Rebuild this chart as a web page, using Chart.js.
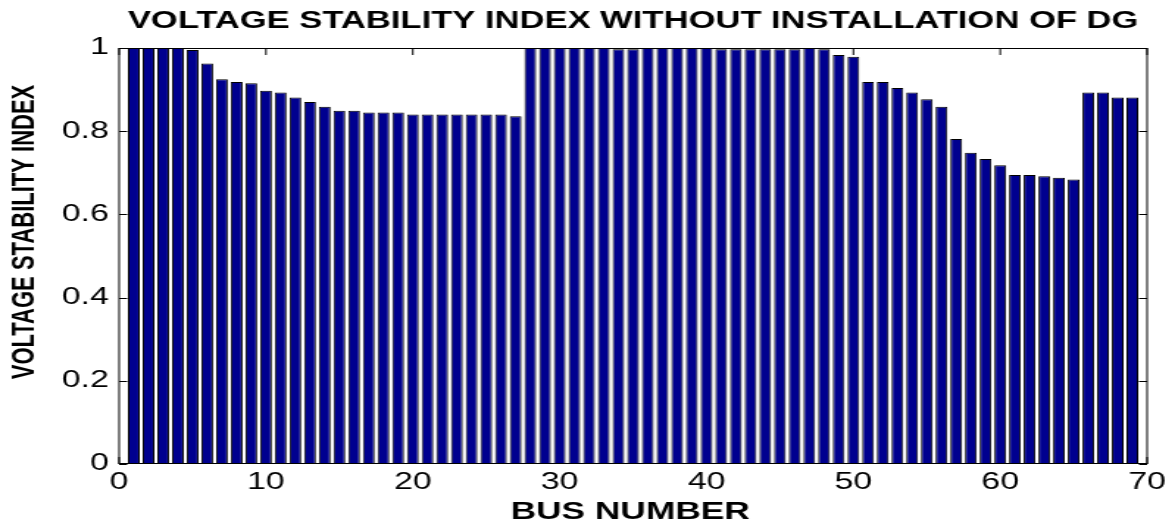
<!DOCTYPE html>
<html>
<head>
<meta charset="utf-8">
<title>Voltage stability index without installation of DG</title>
<script src="https://cdn.jsdelivr.net/npm/chart.js@4.4.1/dist/chart.umd.min.js"></script>
<style>
    html, body { margin: 0; padding: 0; background: #fff; overflow: hidden; }
    /* the original figure is stretched sideways, so the whole canvas is too */
    #wrap { width: 799px; height: 528px; transform: scaleX(1.4706); transform-origin: 0 0; }
</style>
</head>
<body>
<div id="wrap"><canvas id="chart-vsi" width="799" height="528"></canvas></div>
<script>
const TITLE   = 'VOLTAGE STABILITY INDEX WITHOUT INSTALLATION OF DG';
const X_TITLE = 'BUS NUMBER';
const Y_TITLE = 'VOLTAGE STABILITY INDEX';

const busNumbers = [
     1,  2,  3,  4,  5,  6,  7,  8,  9, 10,
    11, 12, 13, 14, 15, 16, 17, 18, 19, 20,
    21, 22, 23, 24, 25, 26, 27, 28, 29, 30,
    31, 32, 33, 34, 35, 36, 37, 38, 39, 40,
    41, 42, 43, 44, 45, 46, 47, 48, 49, 50,
    51, 52, 53, 54, 55, 56, 57, 58, 59, 60,
    61, 62, 63, 64, 65, 66, 67, 68, 69
];

const vsi = [
    1.000, 1.000, 1.000, 1.000, 0.995, 0.963, 0.925, 0.918, 0.915, 0.897,
    0.893, 0.881, 0.870, 0.859, 0.849, 0.849, 0.845, 0.845, 0.845, 0.840,
    0.840, 0.840, 0.840, 0.840, 0.840, 0.840, 0.836, 1.000, 1.000, 1.000,
    1.000, 1.000, 1.000, 0.997, 0.997, 1.000, 1.000, 1.000, 1.000, 1.000,
    0.997, 0.997, 0.997, 0.997, 0.997, 0.997, 1.000, 0.997, 0.983, 0.979,
    0.918, 0.918, 0.904, 0.893, 0.877, 0.859, 0.781, 0.748, 0.733, 0.718,
    0.695, 0.695, 0.692, 0.688, 0.684, 0.893, 0.893, 0.881, 0.881
];

const xTicks = [0, 10, 20, 30, 40, 50, 60, 70];
const yTicks = [0, 0.2, 0.4, 0.6, 0.8, 1];

const FONT = '"Liberation Sans", Arial, Helvetica, sans-serif';

// matlab style box: full frame, ticks pointing inwards, under the bars
const axisBox = {
    id: 'axisBox',
    beforeDatasetsDraw(chart) {
        const { ctx, chartArea: a, scales: { x, y } } = chart;
        ctx.save();
        ctx.strokeStyle = '#000';
        ctx.lineWidth = 1;
        ctx.strokeRect(a.left, a.top + 0.5, a.right - a.left, a.bottom - a.top - 1);
        ctx.beginPath();
        for (const t of x.ticks) {
            const px = x.getPixelForValue(t.value);
            ctx.moveTo(px, a.top);    ctx.lineTo(px, a.top + 7);
            ctx.moveTo(px, a.bottom); ctx.lineTo(px, a.bottom - 7);
        }
        for (const t of y.ticks) {
            const py = Math.round(y.getPixelForValue(t.value)) + 0.5;
            ctx.moveTo(a.left, py);  ctx.lineTo(a.left + 5.5, py);
            ctx.moveTo(a.right, py); ctx.lineTo(a.right - 5.5, py);
        }
        ctx.stroke();
        ctx.restore();
    },
    afterDraw(chart) {
        const { ctx, chartArea: a } = chart;
        ctx.save();
        ctx.fillStyle = '#000';
        ctx.textAlign = 'center';
        ctx.textBaseline = 'middle';

        ctx.font = `bold 23.5px ${FONT}`;
        ctx.fillText(TITLE, (a.left + a.right) / 2, 21.5);

        ctx.font = `bold 24px ${FONT}`;
        ctx.fillText(X_TITLE, (a.left + a.right) / 2 - 2, 512);

        ctx.translate(17, 232);
        ctx.rotate(-Math.PI / 2);
        ctx.font = `bold 22px ${FONT}`;
        ctx.fillText(Y_TITLE, 0, 0);
        ctx.restore();
    }
};

const ctx = document.getElementById('chart-vsi').getContext('2d');

new Chart(ctx, {
    type: 'bar',
    data: {
        datasets: [{
            label: 'VSI',
            data: busNumbers.map((b, i) => ({ x: b, y: vsi[i] })),
            backgroundColor: '#00008F',
            borderColor: '#000',
            borderWidth: 1,
            borderSkipped: false,
            barPercentage: 0.8,
            categoryPercentage: 1
        }]
    },
    options: {
        responsive: false,
        devicePixelRatio: 1,
        animation: false,
        layout: { padding: { top: 48, right: 19, bottom: 0, left: 0 } },
        plugins: {
            legend: { display: false },
            tooltip: { enabled: false },
            title: { display: false }
        },
        scales: {
            x: {
                type: 'linear',
                min: 0,
                max: 70,
                offset: false,
                afterBuildTicks: s => { s.ticks = xTicks.map(value => ({ value })); },
                afterFit: s => { s.height = 64; },
                grid: { display: false, drawTicks: false },
                border: { display: false },
                ticks: {
                    color: '#000',
                    padding: 5,
                    maxRotation: 0,
                    font: { family: FONT, size: 23 },
                    callback: v => String(v)
                }
            },
            y: {
                type: 'linear',
                min: 0,
                max: 1,
                afterBuildTicks: s => { s.ticks = yTicks.map(value => ({ value })); },
                afterFit: s => { s.width = 81; },
                grid: { display: false, drawTicks: false },
                border: { display: false },
                ticks: {
                    color: '#000',
                    padding: 7,
                    font: { family: FONT, size: 23 },
                    callback: v => String(v)
                }
            }
        }
    },
    plugins: [axisBox]
});
</script>
</body>
</html>
